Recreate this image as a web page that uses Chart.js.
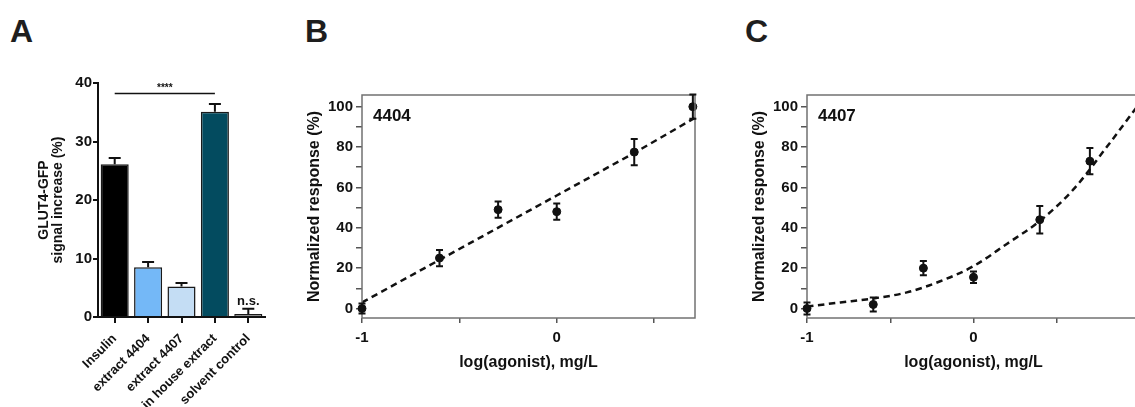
<!DOCTYPE html>
<html>
<head>
<meta charset="utf-8">
<script src="https://cdn.jsdelivr.net/npm/chart.js@4/dist/chart.umd.min.js"></script>
<style>
html, body { margin:0; padding:0; background:#fff; width:1135px; height:407px; overflow:hidden; }
.panel { position:absolute; top:0; height:407px; }
.letter { position:absolute; font:bold 32px 'Liberation Sans', Arial, sans-serif; line-height:1; color:#1e1e1e; }
</style>
</head>
<body>
<div class="letter" style="left:10px;top:15px">A</div>
<div class="letter" style="left:305px;top:15px">B</div>
<div class="letter" style="left:745px;top:15px">C</div>
<div class="panel" style="left:0;width:285px"><canvas id="chartA"></canvas></div>
<div class="panel" style="left:290px;width:430px"><canvas id="chartB"></canvas></div>
<div class="panel" style="left:735px;width:430px"><canvas id="chartC"></canvas></div>
<script>
// ── Data ──────────────────────────────────────────────────────────────────────

// panel A: GLUT4-GFP translocation
const barLabels = ['Insulin', 'extract 4404', 'extract 4407', 'in house extract', 'solvent control'];
const barMeans  = [26.1, 8.5, 5.2, 35.1, 0.5];
const barErr    = [1.1, 0.9, 0.6, 1.3, 0.9];
const barColors = ['#000000', '#74b8f7', '#c4ddf4', '#034b5f', '#8c8c8c'];
const barTicks  = [0, 10, 20, 30, 40];
const sigPair   = [0, 3];      // Insulin vs in house extract
const sigLevel  = 38.2;

// panels B and C: dose-response, log(mg/L)
const doseX  = [-1, -0.602, -0.301, 0, 0.398, 0.699];
const resp4404 = [0, 25, 49, 48, 77.5, 100];
const err4404  = [2.5, 4, 4, 4, 6.5, 6];
const resp4407 = [0, 2, 20, 15.5, 44, 73];
const err4407  = [3, 3.5, 3.5, 2.8, 6.8, 6.5];

// fitted curves
const fitX4404 = [-1, -0.6, -0.3, 0, 0.4, 0.71];
const fitY4404 = [3, 24.2, 40.1, 56, 77.2, 94.5];
const fitX4407 = [-1, -0.8, -0.6, -0.4, -0.2, 0, 0.2, 0.4, 0.6, 0.8, 1.0];
const fitY4407 = [1, 3, 5, 8, 13.5, 21, 32, 43.5, 59, 80, 102];

const respTicks = [0, 10, 20, 30, 40, 50, 60, 70, 80, 90, 100];
const xTicksB = [-1, -0.5, 0, 0.5];
const xTicksC = [-1, -0.5, 0, 0.5, 1];

// ── Shared setup ──────────────────────────────────────────────────────────────

const FONT = "'Liberation Sans', Arial, Helvetica, sans-serif";
Chart.defaults.font.family = FONT;
Chart.defaults.font.weight = 'bold';
Chart.defaults.color = '#111';
Chart.defaults.animation = false;
Chart.defaults.responsive = true;
Chart.defaults.maintainAspectRatio = false;

const pairs = (xs, ys) => xs.map((x, i) => ({x, y: ys[i]}));
const setTicks = vals => scale => { scale.ticks = vals.map(v => ({value: v})); };

const errorBars = {
  id: 'errorBars',
  afterDatasetsDraw(chart) {
    const ctx = chart.ctx, ys = chart.scales.y;
    chart.data.datasets.forEach((ds, di) => {
      if (!ds.errors) return;
      const meta = chart.getDatasetMeta(di);
      ctx.save();
      ctx.strokeStyle = '#111';
      ctx.lineWidth = 2;
      meta.data.forEach((el, i) => {
        const d = ds.data[i], v = typeof d === 'object' ? d.y : d, e = ds.errors[i];
        const cap = ds.capHalf || 4;
        const top = ys.getPixelForValue(v + e);
        const bot = ys.getPixelForValue(ds.upOnly ? v : v - e);
        ctx.beginPath();
        ctx.moveTo(el.x, bot); ctx.lineTo(el.x, top);
        ctx.moveTo(el.x - cap, top); ctx.lineTo(el.x + cap, top);
        if (!ds.upOnly) { ctx.moveTo(el.x - cap, bot); ctx.lineTo(el.x + cap, bot); }
        ctx.stroke();
      });
      ctx.restore();
    });
  }
};

const frame = {
  id: 'frame',
  afterDatasetsDraw(chart) {
    const {ctx, chartArea: a} = chart;
    ctx.save();
    ctx.strokeStyle = '#727272';
    ctx.lineWidth = 1.5;
    ctx.strokeRect(a.left, a.top, a.right - a.left, a.bottom - a.top);
    ctx.restore();
  }
};

const cornerLabel = {
  id: 'cornerLabel',
  afterDraw(chart, args, opts) {
    const {ctx, chartArea: a} = chart;
    ctx.save();
    ctx.font = 'bold 17px ' + FONT;
    ctx.fillStyle = '#111';
    ctx.textBaseline = 'alphabetic';
    ctx.fillText(opts.text, a.left + 11, a.top + 26);
    ctx.restore();
  }
};

// ── Panel A ───────────────────────────────────────────────────────────────────

const sigMarks = {
  id: 'sigMarks',
  afterDraw(chart) {
    const {ctx, scales: {x, y}} = chart;
    ctx.save();
    const x1 = x.getPixelForValue(sigPair[0]), x2 = x.getPixelForValue(sigPair[1]);
    const yl = y.getPixelForValue(sigLevel);
    ctx.strokeStyle = '#111';
    ctx.lineWidth = 1.5;
    ctx.beginPath(); ctx.moveTo(x1, yl); ctx.lineTo(x2, yl); ctx.stroke();
    ctx.fillStyle = '#111';
    ctx.textAlign = 'center';
    ctx.textBaseline = 'alphabetic';
    ctx.font = 'bold 10px ' + FONT;
    ctx.fillText('****', (x1 + x2) / 2, yl - 3);
    ctx.font = 'bold 13px ' + FONT;
    const last = barMeans.length - 1;
    ctx.fillText('n.s.', x.getPixelForValue(last), y.getPixelForValue(barMeans[last] + barErr[last]) - 4);
    ctx.restore();
  }
};

new Chart(document.getElementById('chartA'), {
  type: 'bar',
  data: {
    labels: barLabels,
    datasets: [{
      data: barMeans,
      errors: barErr,
      upOnly: true,
      capHalf: 6,
      backgroundColor: barColors,
      borderColor: '#1a1a1a',
      borderWidth: 1.5,
      borderSkipped: 'bottom',
      categoryPercentage: 1,
      barPercentage: 0.84
    }]
  },
  options: {
    layout: {padding: {top: 83, right: 20, left: 0, bottom: 0}},
    plugins: {legend: {display: false}, tooltip: {enabled: false}},
    scales: {
      x: {
        grid: {display: true, drawOnChartArea: false, offset: false, tickLength: 6, color: '#111', lineWidth: 2},
        border: {color: '#111', width: 2},
        ticks: {font: {size: 13, weight: 'bold'}, minRotation: 45, maxRotation: 45, padding: 8, autoSkip: false},
        afterFit: s => { s.height = 90; }
      },
      y: {
        min: 0, max: 40,
        afterBuildTicks: setTicks(barTicks),
        grid: {display: true, drawOnChartArea: false, tickLength: 5, color: '#111', lineWidth: 2},
        border: {color: '#111', width: 2},
        ticks: {font: {size: 15, weight: 'bold'}, padding: 1},
        title: {display: true, text: ['GLUT4-GFP', 'signal increase (%)'],
                font: {size: 14, weight: 'bold', lineHeight: 1.05}, padding: {top: 36.5, bottom: 0}},
        afterFit: s => { s.width = 98; }
      }
    }
  },
  plugins: [errorBars, sigMarks]
});

// ── Panels B & C ──────────────────────────────────────────────────────────────

function doseChart(id, label, resp, err, fitX, fitY, xMax, xTicks, smooth) {
  return new Chart(document.getElementById(id), {
    type: 'scatter',
    data: {
      datasets: [{
        type: 'line',
        data: pairs(fitX, fitY),
        borderColor: '#111',
        borderWidth: 2.5,
        borderDash: [6.5, 4.5],
        pointRadius: 0,
        tension: smooth ? 0.4 : 0,
        cubicInterpolationMode: smooth ? 'monotone' : 'default'
      }, {
        data: pairs(doseX, resp),
        errors: err,
        capHalf: 3.5,
        clip: false,
        pointRadius: 4,
        backgroundColor: '#111',
        borderColor: '#111'
      }]
    },
    options: {
      layout: {padding: {top: 95, right: 25, left: 0, bottom: 0}},
      plugins: {legend: {display: false}, tooltip: {enabled: false}, cornerLabel: {text: label}},
      scales: {
        x: {
          type: 'linear', min: -1, max: xMax,
          afterBuildTicks: setTicks(xTicks),
          grid: {display: true, drawOnChartArea: false, tickLength: 5, color: '#555', lineWidth: 1.5},
          border: {display: false},
          ticks: {font: {size: 15, weight: 'bold'}, padding: 6, maxRotation: 0,
                  callback: v => Number.isInteger(v) ? String(v) : ''},
          title: {display: true, text: 'log(agonist), mg/L', font: {size: 16, weight: 'bold'}, padding: {top: 0, bottom: 34.5}},
          afterFit: s => { s.height = 89; }
        },
        y: {
          min: -4.7, max: 105.8,
          afterBuildTicks: setTicks(respTicks),
          grid: {display: true, drawOnChartArea: false, tickLength: 6, color: '#555', lineWidth: 1.5},
          border: {display: false},
          ticks: {font: {size: 15, weight: 'bold'}, padding: 3,
                  callback: v => v % 20 === 0 ? String(v) : ''},
          title: {display: true, text: 'Normalized response (%)', font: {size: 16, weight: 'bold'}, padding: {top: 15.4, bottom: 0}},
          afterFit: s => { s.width = 72; }
        }
      }
    },
    plugins: [frame, errorBars, cornerLabel]
  });
}

doseChart('chartB', '4404', resp4404, err4404, fitX4404, fitY4404, 0.71, xTicksB, false);
doseChart('chartC', '4407', resp4407, err4407, fitX4407, fitY4407, 1.0, xTicksC, true);
</script>
</body>
</html>
